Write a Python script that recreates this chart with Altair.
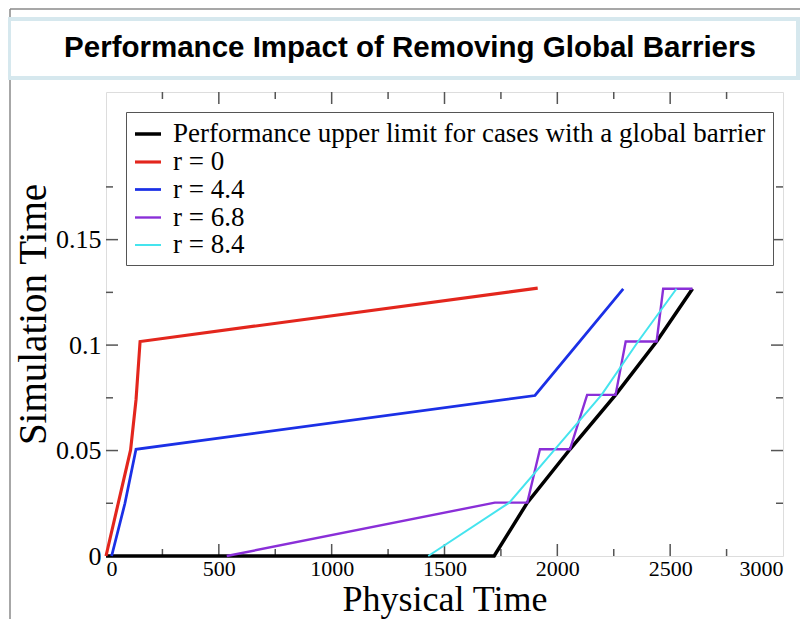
import altair as alt
import pandas as pd

# ---------------- data ----------------
series_names = [
    "Performance upper limit for cases with a global barrier",
    "r = 0",
    "r = 4.4",
    "r = 6.8",
    "r = 8.4",
]
series_colors = ["#000000", "#e3261d", "#1b30e6", "#8a2fd8", "#45e4ee"]
series_widths = [3.5, 2, 2, 2, 2]

limit_x = [0, 1720, 1867, 2056, 2258, 2440, 2599]
limit_y = [0, 0, 0.0253, 0.0506, 0.0764, 0.1017, 0.1267]

r0_x = [0, 109, 133, 151, 1913]
r0_y = [0, 0.0503, 0.074, 0.1017, 0.127]

r44_x = [25, 84, 133, 1901, 2292]
r44_y = [0, 0.025, 0.0506, 0.0761, 0.1267]

r68_x = [535, 1723, 1867, 1923, 2056, 2132, 2258, 2303, 2440, 2469, 2599]
r68_y = [0, 0.0253, 0.0253, 0.0506, 0.0506, 0.0764, 0.0764, 0.1017, 0.1017, 0.1267, 0.1267]

r84_x = [1428, 1787, 1989, 2196, 2358, 2528]
r84_y = [0, 0.0253, 0.0506, 0.0764, 0.1017, 0.1267]

x_label_values = [0, 500, 1000, 1500, 2000, 2500, 3000]
y_label_values = [0, 0.05, 0.1, 0.15]
x_major_ticks = [500, 1000, 1500, 2000, 2500]
x_minor_ticks = [250, 750, 1250, 1750, 2250, 2750]
y_major_ticks = [0.05, 0.1, 0.15]
y_minor_ticks = [0.025, 0.075, 0.125, 0.175]

chart_title = "Performance Impact of Removing Global Barriers"
x_title = "Physical Time"
y_title = "Simulation Time"

# ---------------- build table ----------------
rows = []
for name, xs, ys in zip(series_names,
                        [limit_x, r0_x, r44_x, r68_x, r84_x],
                        [limit_y, r0_y, r44_y, r68_y, r84_y]):
    for i, (xv, yv) in enumerate(zip(xs, ys)):
        rows.append({"series": name, "x": xv, "y": yv, "i": i})
df = pd.DataFrame(rows)

W, H = 677, 464
SERIF = "Liberation Serif"
SANS = "Liberation Sans"
TICK_COLOR = "#555555"
MAJ, MIN = 12, 7

xscale = alt.Scale(domain=[0, 3000], nice=False, zero=False)
yscale = alt.Scale(domain=[0, 0.22], nice=False, zero=False)

legend = alt.Legend(
    orient="none", legendX=20, legendY=20, title=None,
    strokeColor="#555555", fillColor="white", padding=7,
    labelFont=SERIF, labelFontSize=27, labelLimit=1000, labelColor="black",
    symbolType="stroke", symbolSize=676, labelOffset=10, rowPadding=0,
)

lines = alt.Chart(df).mark_line(strokeJoin="miter").encode(
    x=alt.X("x:Q", scale=xscale, axis=alt.Axis(
        values=x_label_values, format="d", ticks=False, domain=False, grid=False,
        labelFont=SERIF, labelFontSize=22, labelColor="black", labelPadding=2,
        title=x_title, titleFont=SERIF, titleFontSize=36, titleFontWeight="normal",
        titleColor="black", titleBaseline="alphabetic", titleY=54)),
    y=alt.Y("y:Q", scale=yscale, axis=alt.Axis(
        values=y_label_values, ticks=False, domain=False, grid=False,
        labelExpr="datum.value == 0 ? '0' : toString(datum.value)",
        labelFont=SERIF, labelFontSize=26, labelColor="black", labelPadding=5,
        title=y_title, titleFont=SERIF, titleFontSize=39, titleFontWeight="normal",
        titleColor="black", titleBaseline="middle", titleAlign="center",
        titleX=-73, titleY=H / 2 - 10, titleAngle=270)),
    color=alt.Color("series:N", scale=alt.Scale(domain=series_names, range=series_colors),
                    legend=legend),
    strokeWidth=alt.StrokeWidth("series:N", scale=alt.Scale(domain=series_names, range=series_widths),
                                legend=legend),
    order="i:Q",
)

def xticks(values, length):
    d = pd.DataFrame({"v": values})
    bottom = alt.Chart(d).mark_rule(color=TICK_COLOR, strokeWidth=1.5).encode(
        x=alt.X("v:Q", scale=xscale), y=alt.value(H), y2=alt.value(H - length))
    top = alt.Chart(d).mark_rule(color=TICK_COLOR, strokeWidth=1.5).encode(
        x=alt.X("v:Q", scale=xscale), y=alt.value(0), y2=alt.value(length))
    return [bottom, top]

def yticks(values, length):
    d = pd.DataFrame({"v": values})
    left = alt.Chart(d).mark_rule(color=TICK_COLOR, strokeWidth=1.5).encode(
        y=alt.Y("v:Q", scale=yscale), x=alt.value(0), x2=alt.value(length))
    right = alt.Chart(d).mark_rule(color=TICK_COLOR, strokeWidth=1.5).encode(
        y=alt.Y("v:Q", scale=yscale), x=alt.value(W), x2=alt.value(W - length))
    return [left, right]

tick_layers = (xticks(x_major_ticks, MAJ) + xticks(x_minor_ticks, MIN)
               + yticks(y_major_ticks, MAJ) + yticks(y_minor_ticks, MIN))

one = pd.DataFrame({"t": [chart_title]})
title_box = alt.Chart(one).mark_rect(fill="white", stroke="#d6e8ee", strokeWidth=4).encode(
    x=alt.value(-97), x2=alt.value(692), y=alt.value(-73), y2=alt.value(-14))
title_text = alt.Chart(one).mark_text(
    font=SANS, fontSize=29.5, fontWeight="bold", color="black", align="center", baseline="middle"
).encode(x=alt.value(304), y=alt.value(-44), text="t:N")
frame_v = alt.Chart(one).mark_rule(color="#8a8a8a", strokeWidth=1.5).encode(
    x=alt.value(-96), y=alt.value(-83), y2=alt.value(530))
frame_h = alt.Chart(one).mark_rule(color="#8a8a8a", strokeWidth=1.5).encode(
    x=alt.value(-96), x2=alt.value(700), y=alt.value(-83))

chart = alt.layer(
    frame_v, frame_h, title_box, title_text, *tick_layers, lines
).properties(
    width=W, height=H,
    autosize=alt.AutoSizeParams(type="none"),
    padding={"left": 98, "top": 84, "right": 17, "bottom": 63},
).configure_view(
    stroke="#666666", strokeWidth=1.5
).configure(background="white")

chart.save("out.html", embed_options={"renderer": "svg", "actions": False})
